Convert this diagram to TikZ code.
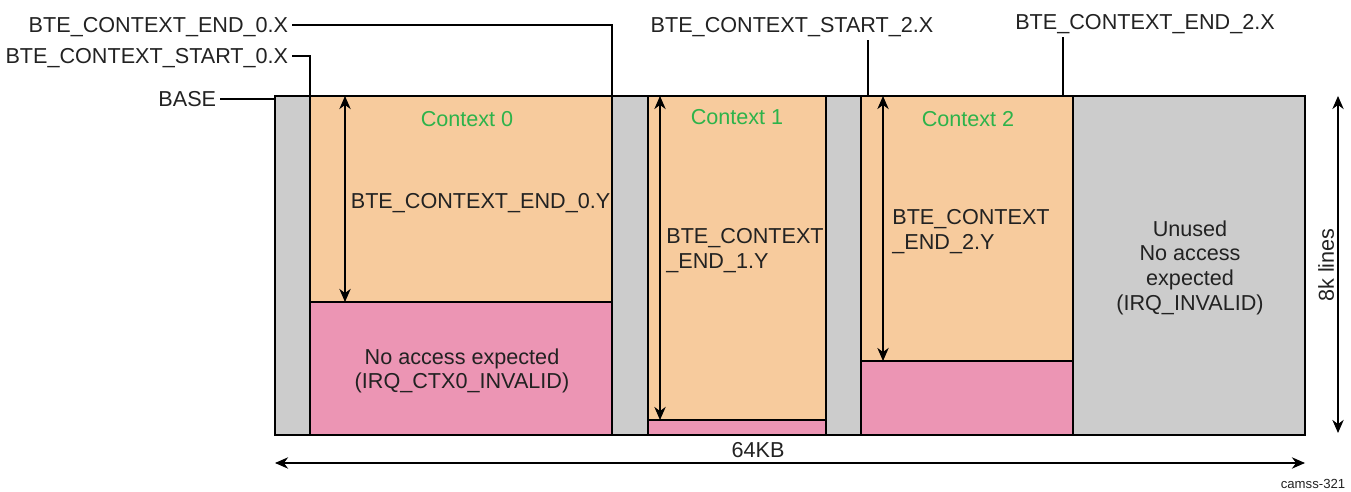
\documentclass[tikz,border=0pt]{standalone}
\usepackage{fontspec}
\setmainfont{Liberation Sans}
\usetikzlibrary{arrows.meta}
\definecolor{ctxorange}{HTML}{F7CB9D}
\definecolor{noaccess}{HTML}{EC95B4}
\definecolor{unusedgray}{HTML}{CCCCCC}
\definecolor{ctxgreen}{HTML}{2DB34A}
\definecolor{textgray}{HTML}{222222}
\tikzset{
    region/.style={line width=1.6pt},
    leader/.style={line width=0.6pt},
    dim/.style={<->,line width=0.6pt},
    lbl/.style={inner sep=2pt,text height=8.8pt,text depth=0pt,text=textgray},
    para/.style={inner sep=0pt,text=textgray},
    ctxname/.style={inner sep=0pt,text=ctxgreen}
}

\begin{document}
\begin{tikzpicture}[>={Stealth[length=7.5pt,width=6.5pt]},x=0.02cm,y=-0.02cm,
        font=\fontsize{12.3}{14.2}\selectfont]
        \useasboundingbox (0,0) rectangle (1351,492);
        % memory regions
        \fill[unusedgray] (275,96) rectangle (1305,435);
        \fill[ctxorange] (310,96) rectangle (612,302);
        \fill[noaccess] (310,302) rectangle (612,435);
        \fill[ctxorange] (648,96) rectangle (826,420);
        \fill[noaccess] (648,420) rectangle (826,435);
        \fill[ctxorange] (861,96) rectangle (1073,361);
        \fill[noaccess] (861,361) rectangle (1073,435);
        \foreach \x in {310,612,648,826,861,1073}
            \draw[region] (\x,96) -- (\x,435);
        \draw[region] (310,302) -- (612,302);
        \draw[region] (648,420) -- (826,420);
        \draw[region] (861,361) -- (1073,361);
        \draw[region] (275,96) rectangle (1305,435);
        % anchor points on the top edge
        \coordinate (base) at (275,99);
        \coordinate (s0) at (310,96);
        \coordinate (e0) at (612,96);
        \coordinate (s2) at (868,96);
        \coordinate (e2) at (1063,96);
        % top labels and leaders
        \node[lbl,anchor=east] (end0x) at (292,25) {BTE\_CONTEXT\_END\_0.X};
        \node[lbl,anchor=east] (start0x) at (292,56) {BTE\_CONTEXT\_START\_0.X};
        \node[lbl,anchor=east] (basel) at (220,99) {BASE};
        \node[lbl] (start2x) at (792,25) {BTE\_CONTEXT\_START\_2.X};
        \node[lbl] (end2x) at (1145,22) {BTE\_CONTEXT\_END\_2.X};
        \draw[leader] (end0x.east) -| (e0);
        \draw[leader] (start0x.east) -| (s0);
        \draw[leader] (basel.east) -- (base);
        \draw[leader] ([yshift=-2pt]s2 |- start2x.south) -- (s2);
        \draw[leader] ([yshift=-2pt]e2 |- end2x.south) -- (e2);
        % context names
        \node[ctxname] (ctx0) at (467,119) {Context 0};
        \node[ctxname] (ctx1) at (737,117) {Context 1};
        \node[ctxname] (ctx2) at (968,119) {Context 2};
        % context heights
        \coordinate (y0top) at (345,96);
        \coordinate (y0bot) at (345,302);
        \coordinate (y1top) at (660,96);
        \coordinate (y1bot) at (660,420);
        \coordinate (y2top) at (883,96);
        \coordinate (y2bot) at (883,361);
        \draw[dim] (y0top) -- (y0bot);
        \draw[dim] (y1top) -- (y1bot);
        \draw[dim] (y2top) -- (y2bot);
        \node[lbl,anchor=west] (end0y) at (347,201) {BTE\_CONTEXT\_END\_0.Y};
        \node[para,anchor=north west,align=left] (end1y) at (666,228) {BTE\_CONTEXT\\\_END\_1.Y};
        \node[para,anchor=north west,align=left] (end2y) at (892,209) {BTE\_CONTEXT\\\_END\_2.Y};
        \node[para,anchor=north,align=center] (noacc0) at (462,348) {No access expected\\(IRQ\_CTX0\_INVALID)};
        \node[para,anchor=north,align=center] (unused) at (1190,220) {Unused\\No access\\expected\\(IRQ\_INVALID)};
        % overall size
        \coordinate (wl) at (275,463);
        \coordinate (wr) at (1305,463);
        \coordinate (ht) at (1338,96);
        \coordinate (hb) at (1338,433);
        \draw[dim] (wl) -- (wr);
        \draw[dim] (ht) -- (hb);
        \node[lbl] (size) at (758,450) {64KB};
        \node[lbl,rotate=90] (lines) at (1326,265) {8k lines};
        \node[para,font=\fontsize{7.5}{9}\selectfont] (fig) at (1313,484) {camss-321};
\end{tikzpicture}
\end{document}
